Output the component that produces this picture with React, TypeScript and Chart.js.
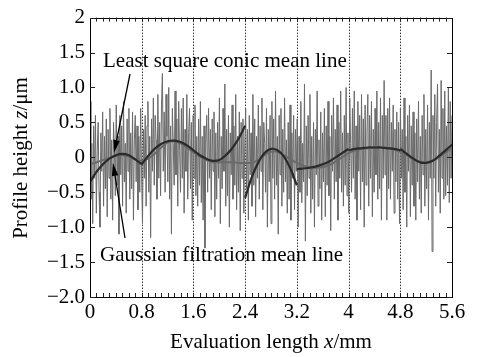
import React, { useEffect, useRef } from 'react';
import { Chart, registerables } from 'chart.js';

Chart.register(...registerables);

// ---- data ----
const xTickValues = [0, 0.8, 1.6, 2.4, 3.2, 4, 4.8, 5.6];
const xTickLabels = ['0', '0.8', '1.6', '2.4', '3.2', '4', '4.8', '5.6'];
const yTickValues = [-2, -1.5, -1, -0.5, 0, 0.5, 1, 1.5, 2];
const yTickLabels = ['\u22122.0', '\u22121.5', '\u22121.0', '\u22120.5', '0', '0.5', '1.0', '1.5', '2'];

const profileStep = 0.014;
const profileValues = [
  0.8, -0.6, 0.2, -0.95, 0.45, -0.3, 0.6, -0.8, 0.1, 0.5, -0.5, -1.0, 0.35, -0.2, 0.65, -0.7, 0.3, -0.45, 0.55, -0.85,
  0.4, -0.3, 0.7, -0.6, 0.25, -0.9, 0.5, 0.1, -0.55, 0.75, -0.4, 0.3, -1.1, 0.6, -0.25, 0.45, -0.7, 0.8, -0.35, 0.2,
  -0.8, 0.55, -0.2, 0.7, -0.6, 0.35, -0.45, 0.65, -0.9, 0.25, 0.6, -0.35, 0.45, -0.75, 0.3, -0.5, 0.7, -0.25, -0.95, 0.4,
  -0.3, 0.6, -0.7, 0.45, 0.8, -0.5, 0.3, -1.15, 0.55, -0.2, 0.85, -0.4, 0.6, 0.25, -0.6, 0.9, -0.3, 0.5, -0.55, 0.75,
  1.2, -0.2, 0.65, -0.5, 0.9, 0.3, -0.35, 1.0, -0.6, 0.45, -1.1, 0.7, 0.2, -0.4, 0.95, -0.25, 0.55, -0.7, 0.8, 0.1,
  -0.5, 0.7, -0.3, 0.85, -0.8, 0.4, -0.2, 0.9, -0.6, 0.35, 0.7, -0.45, 0.5, -0.9, 0.6, -0.3, 0.75, -0.55, 0.3, -0.7,
  0.55, -0.4, 0.8, -0.65, 0.3, -0.9, 0.45, -1.3, 0.2, 0.6, -0.5, 0.7, -0.3, 0.4, -0.75, 0.55, -0.2, 0.65, -0.85, 0.35,
  -0.6, 0.5, -0.3, 0.85, -0.95, 0.3, -0.45, 0.7, -0.2, 1.05, -0.7, 0.4, -0.55, 0.6, -1.0, 0.35, -0.25, 0.75, -0.6, 0.45,
  -0.4, 0.9, -0.75, 0.3, -0.5, 0.65, -1.05, 0.5, -0.3, 0.55, -0.8, 0.2, 0.7, -0.45, 0.4, -0.9, 0.6, -0.25, 0.35, -0.7,
  0.9, -0.4, 0.55, -0.85, 0.3, -0.3, 0.75, -0.6, 0.45, -0.2, 0.85, -0.75, 0.5, 0.2, -0.5, 0.7, -1.0, 0.4, -0.35, 0.6,
  -0.95, 0.8, -0.3, 0.55, -0.6, 0.95, -0.4, 0.3, -1.1, 0.6, -0.25, 0.7, -0.7, 0.4, -0.5, 0.85, -0.35, 0.25, -0.8, 0.5,
  -0.6, 0.75, -0.9, 0.35, -0.3, 0.6, -0.75, 0.4, -0.2, 0.55, -1.0, 0.3, -0.5, 0.8, -0.65, 0.2, -0.35, 1.05, -1.2, 0.45,
  -0.55, 0.6, -0.3, 0.9, -0.8, 0.3, -0.6, 0.5, -1.0, 0.4, -0.25, 0.95, -0.7, 0.25, -0.45, 0.65, -0.9, 0.35, -0.35, 0.7,
  -0.85, 0.45, -0.4, 0.8, -0.55, 0.3, -1.05, 0.6, -0.2, 0.85, -0.6, 0.4, -0.35, 0.75, -0.9, 0.5, -0.3, 0.95, -0.5, 0.35,
  -0.7, 0.6, -0.4, 1.0, -0.55, 0.35, -0.8, 0.85, 0.2, -0.5, 0.7, -0.3, 0.95, -0.6, 0.45, -0.9, 0.8, -0.2, 0.6, -0.75,
  0.9, -0.35, 0.55, -1.0, 0.75, -0.4, 0.35, 0.9, -0.7, 0.6, -0.3, 0.8, -0.85, 0.4, -0.5, 0.7, -0.25, 0.95, -0.6, 0.5,
  -0.45, 0.85, -0.9, 0.6, -0.3, 1.1, -0.25, 0.6, -0.9, 0.7, -0.45, 0.85, -0.6, 0.5, -0.2, 0.75, -0.8, 0.4, -0.35, 0.65,
  -0.6, 0.5, -0.95, 0.7, -0.3, 0.4, -0.75, 0.85, -0.5, 0.3, -1.0, 0.6, -0.2, 0.75, -0.85, 0.45, -0.4, 0.65, -0.7, 0.35,
  -0.9, 0.55, -0.35, 0.8, -0.6, 0.3, -0.8, 0.6, -0.25, 0.9, -0.7, 0.4, -0.45, 0.75, -0.9, 0.5, -0.3, 1.25, -1.35, 0.6,
  -0.3, 0.9, -0.7, 0.5, 1.05, -0.5, 0.4, -0.8, 1.1, -0.3, 0.7, -0.6, 0.95, -0.55, 0.45, -0.4, 1.0, -0.65, 0.8, -0.3,
  0.6,
];

const gaussStep = 0.1;
const gaussianValues = [
  -0.1, -0.07, -0.04, -0.01, 0.02, 0.03, 0.01, -0.03, -0.05, -0.02,
  0.05, 0.14, 0.21, 0.23, 0.2, 0.14, 0.07, 0.01, -0.04, -0.07,
  -0.07, -0.07, -0.07, -0.08, -0.08, -0.08, -0.04, 0.03, 0.08, 0.08,
  0.03, -0.03, -0.08, -0.12, -0.14, -0.15, -0.14, -0.11, -0.06, 0.0,
  0.06, 0.1, 0.12, 0.13, 0.14, 0.14, 0.13, 0.11, 0.08, 0.03,
  -0.02, -0.06, -0.07, -0.05, 0.0, 0.07, 0.13,
];

const conicStep = 0.1;
const conicSegStarts = [0, 0.8, 1.6, 2.4, 3.2, 4.0, 4.8];
const conicSeg1 = [-0.35, -0.21, -0.1, -0.02, 0.03, 0.05, 0.03, -0.03, -0.1];
const conicSeg2 = [-0.1, 0.02, 0.12, 0.19, 0.23, 0.24, 0.22, 0.17, 0.1];
const conicSeg3 = [0.1, 0.03, -0.02, -0.05, -0.04, 0.03, 0.13, 0.27, 0.45];
const conicSeg4 = [-0.58, -0.29, -0.08, 0.06, 0.12, 0.1, 0.01, -0.16, -0.4];
const conicSeg5 = [-0.17, -0.16, -0.15, -0.13, -0.1, -0.06, 0.0, 0.06, 0.12];
const conicSeg6 = [0.1, 0.12, 0.13, 0.14, 0.14, 0.14, 0.13, 0.12, 0.1];
const conicSeg7 = [0.12, 0.05, -0.02, -0.07, -0.08, -0.05, 0.02, 0.1, 0.18];
const conicSegments = [conicSeg1, conicSeg2, conicSeg3, conicSeg4, conicSeg5, conicSeg6, conicSeg7];

const gridValues = [0.8, 1.6, 2.4, 3.2, 4, 4.8];

const FONT = "'Liberation Serif', 'Times New Roman', serif";

function drawRich(ctx: CanvasRenderingContext2D, parts: [string, boolean][], cx: number, y: number, size: number) {
  const widths = parts.map(([t, it]) => {
    ctx.font = `${it ? 'italic ' : ''}${size}px ${FONT}`;
    return ctx.measureText(t).width;
  });
  const total = widths.reduce((a, b) => a + b, 0);
  let x = cx - total / 2;
  ctx.textAlign = 'left';
  ctx.textBaseline = 'alphabetic';
  parts.forEach(([t, it], i) => {
    ctx.font = `${it ? 'italic ' : ''}${size}px ${FONT}`;
    ctx.fillText(t, x, y);
    x += widths[i];
  });
}

function drawArrow(ctx: CanvasRenderingContext2D, x0: number, y0: number, x1: number, y1: number) {
  const ang = Math.atan2(y1 - y0, x1 - x0);
  const hl = 13, hw = 3.2;
  const bx = x1 - hl * Math.cos(ang), by = y1 - hl * Math.sin(ang);
  ctx.strokeStyle = '#000';
  ctx.lineWidth = 1.3;
  ctx.beginPath();
  ctx.moveTo(x0, y0);
  ctx.lineTo(bx, by);
  ctx.stroke();
  ctx.fillStyle = '#000';
  ctx.beginPath();
  ctx.moveTo(x1, y1);
  ctx.lineTo(bx + hw * Math.sin(ang), by - hw * Math.cos(ang));
  ctx.lineTo(bx - hw * Math.sin(ang), by + hw * Math.cos(ang));
  ctx.closePath();
  ctx.fill();
}

const decorPlugin = {
  id: 'decor',
  beforeDatasetsDraw(chart: any) {
    const { ctx, chartArea: a, scales } = chart;
    ctx.save();
    ctx.strokeStyle = '#333';
    ctx.lineWidth = 1;
    ctx.setLineDash([1.5, 1.5]);
    gridValues.forEach((v) => {
      const x = Math.round(scales.x.getPixelForValue(v)) + 0.5;
      ctx.beginPath();
      ctx.moveTo(x, a.top);
      ctx.lineTo(x, a.bottom);
      ctx.stroke();
    });
    ctx.restore();
  },
  afterDraw(chart: any) {
    const { ctx, chartArea: a, scales } = chart;
    ctx.save();
    ctx.strokeStyle = '#000';
    ctx.lineWidth = 1;
    ctx.strokeRect(Math.round(a.left) + 0.5, Math.round(a.top) + 0.5, Math.round(a.right - a.left), Math.round(a.bottom - a.top));
    ctx.strokeStyle = '#222';
    for (let i = 1; i < 56; i++) {
      const x = Math.round(scales.x.getPixelForValue(i * 0.1)) + 0.5;
      ctx.beginPath();
      ctx.moveTo(x, a.bottom);
      ctx.lineTo(x, a.bottom - 4);
      ctx.moveTo(x, a.top);
      ctx.lineTo(x, a.top + 4);
      ctx.stroke();
    }
    yTickValues.forEach((v) => {
      const y = Math.round(scales.y.getPixelForValue(v)) + 0.5;
      ctx.beginPath();
      ctx.moveTo(a.left, y);
      ctx.lineTo(a.left + 5, y);
      ctx.moveTo(a.right, y);
      ctx.lineTo(a.right - 5, y);
      ctx.stroke();
    });
    ctx.fillStyle = '#000';
    drawRich(ctx, [['Evaluation length ', false], ['x', true], ['/mm', false]], (a.left + a.right) / 2, 348, 21);
    ctx.save();
    ctx.translate(27, 158);
    ctx.rotate(-Math.PI / 2);
    drawRich(ctx, [['Profile height ', false], ['z', true], ['/\u03bcm', false]], 0, 0, 21);
    ctx.restore();
    ctx.fillStyle = '#000';
    ctx.font = `21px ${FONT}`;
    ctx.textAlign = 'left';
    ctx.textBaseline = 'alphabetic';
    ctx.fillText('Least square conic mean line', 103, 67);
    ctx.fillText('Gaussian filtration mean line', 100, 261);
    drawArrow(ctx, 130, 74, 114, 153);
    drawArrow(ctx, 125, 238, 113, 163);
    ctx.restore();
  },
};

export default function App() {
  const ref = useRef<HTMLCanvasElement | null>(null);
  useEffect(() => {
    if (!ref.current) return;
    const profileData = profileValues.map((v, i) => ({ x: +(i * profileStep).toFixed(4), y: v }));
    const gaussData = gaussianValues.map((v, i) => ({ x: +(i * gaussStep).toFixed(3), y: v }));
    const conicData: { x: number; y: number | null }[] = [];
    conicSegments.forEach((seg, s) => {
      seg.forEach((v, j) => conicData.push({ x: +(conicSegStarts[s] + j * conicStep).toFixed(3), y: v }));
      conicData.push({ x: +(conicSegStarts[s] + 0.8).toFixed(3), y: null });
    });
    const chart = new Chart(ref.current, {
      type: 'line',
      data: {
        datasets: [
          { data: conicData as any, borderColor: '#2a2a2a', borderWidth: 2.2, pointRadius: 0, tension: 0.4, spanGaps: false },
          { data: gaussData, borderColor: '#6a6a6a', borderWidth: 2, pointRadius: 0, tension: 0.4 },
          { data: profileData, borderColor: '#6a6a6a', borderWidth: 1, pointRadius: 0, tension: 0 },
        ],
      },
      options: {
        responsive: false,
        animation: false,
        layout: { padding: { top: 16, right: 26, left: 0, bottom: 0 } },
        plugins: { legend: { display: false }, tooltip: { enabled: false } },
        scales: {
          x: {
            type: 'linear',
            min: 0,
            max: 5.6,
            grid: { display: false, drawTicks: false },
            border: { display: false },
            afterBuildTicks: (s: any) => {
              s.ticks = xTickValues.map((v) => ({ value: v }));
            },
            afterFit: (s: any) => {
              s.height = 60;
            },
            ticks: {
              autoSkip: false,
              maxRotation: 0,
              padding: 3,
              color: '#000',
              font: { family: FONT, size: 21 },
              callback: (_v: any, i: number) => xTickLabels[i],
            },
          },
          y: {
            type: 'linear',
            min: -2,
            max: 2,
            grid: { display: false, drawTicks: false },
            border: { display: false },
            afterBuildTicks: (s: any) => {
              s.ticks = yTickValues.map((v) => ({ value: v }));
            },
            afterFit: (s: any) => {
              s.width = 90;
            },
            ticks: {
              autoSkip: false,
              padding: 5,
              color: '#000',
              font: { family: FONT, size: 21 },
              callback: (_v: any, i: number) => yTickLabels[i],
            },
          },
        },
      },
      plugins: [decorPlugin],
    });
    return () => chart.destroy();
  }, []);
  return (
    <div style={{ position: 'absolute', left: 0, top: 0, width: 478, height: 357, background: '#fff' }}>
      <canvas ref={ref} width={478} height={357} style={{ display: 'block' }} />
    </div>
  );
}
